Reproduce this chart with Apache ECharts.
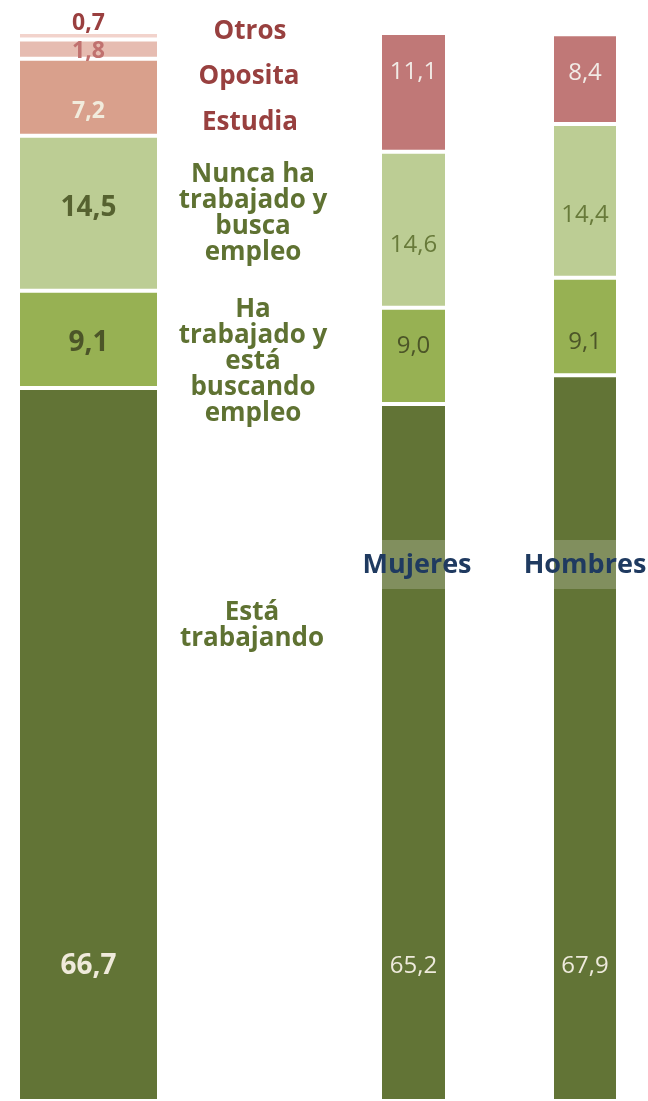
<!DOCTYPE html>
<html>
<head>
<meta charset="utf-8">
<script src="https://cdn.jsdelivr.net/npm/echarts@6/dist/echarts.min.js"></script>
<style>
  html, body { margin: 0; padding: 0; background: #fff; }
  #main { width: 648px; height: 1101px; }
</style>
</head>
<body>
<div id="main"></div>
<script>
  // segmentos (de abajo a arriba)
  const totalNames = ['Está\ntrabajando', 'Ha\ntrabajado y\nestá\nbuscando\nempleo', 'Nunca ha\ntrabajado y\nbusca\nempleo', 'Estudia', 'Oposita', 'Otros']
  const totalValues = [66.7, 9.1, 14.5, 7.2, 1.8, 0.7]
  const sexNames = ['Mujeres', 'Hombres']
  const mujeresValues = [65.2, 9.0, 14.6, 11.1]
  const hombresValues = [67.9, 9.1, 14.4, 8.4]

  const FONT = '"Open Sans"'
  const totalColors = ['#627436', '#97b153', '#bccd94', '#d9a08c', '#e6bcb1', '#f2d3cc']
  const sexColors = ['#627436', '#97b153', '#bccd94', '#c07877']
  const fmt = p => p.value.toFixed(1).replace('.', ',')

  // estilos de etiqueta del total
  const totalLabels = [
    { position: 'insideBottom', distance: 121, color: '#efeadb', fontSize: 28 },
    { position: 'inside', color: '#4c5528', fontSize: 28, offset: [0, 4] },
    { position: 'inside', color: '#566230', fontSize: 28, offset: [0, -5] },
    { position: 'inside', color: '#f1ebdc', fontSize: 23, offset: [0, 14] },
    { position: 'inside', color: '#c0716f', fontSize: 23, offset: [0, 2] },
    { position: 'top', distance: -3, color: '#9a3f3f', fontSize: 23 }
  ]
  const sexLabelColors = ['#eeeadc', '#4c5528', '#687a3a', '#f1ebe6']

  function sexLabels(offsets) {
    return [
      { position: 'insideBottom', distance: 123 },
      { position: 'inside', offset: [0, offsets[0]] },
      { position: 'inside', offset: [0, offsets[1]] },
      { position: 'insideTop', distance: 27 }
    ]
  }
  const sexLabelPos = [sexLabels([-10, 15]), sexLabels([16, 14])]

  const grids = [
    { left: 18, width: 141, top: 32, height: 1070 },
    { left: 380, width: 67, top: 32, height: 1070 },
    { left: 552, width: 66, top: 32, height: 1070 }
  ]
  const xAxis = grids.map((g, i) => ({
    type: 'category', gridIndex: i, data: [i === 0 ? 'Total' : sexNames[i - 1]], show: false
  }))
  const yAxis = grids.map((g, i) => ({
    type: 'value', gridIndex: i, min: 0, max: 100, show: false
  }))

  const series = []
  totalValues.forEach((v, k) => {
    series.push({
      name: totalNames[k].replace(/\n/g, ' '),
      type: 'bar', stack: 'total', xAxisIndex: 0, yAxisIndex: 0,
      barWidth: '100%', data: [v],
      itemStyle: { color: totalColors[k], borderColor: '#fff', borderWidth: 2 },
      label: Object.assign({
        show: true, formatter: fmt, fontFamily: FONT, fontWeight: 'bold'
      }, totalLabels[k])
    })
  })
  ;[mujeresValues, hombresValues].forEach((vals, s) => {
    vals.forEach((v, k) => {
      series.push({
        name: sexNames[s] + ' ' + k,
        type: 'bar', stack: sexNames[s], xAxisIndex: s + 1, yAxisIndex: s + 1,
        barWidth: '100%', data: [v],
        itemStyle: { color: sexColors[k], borderColor: '#fff', borderWidth: 2 },
        label: Object.assign({
          show: true, formatter: fmt, fontFamily: FONT, fontSize: 24, color: sexLabelColors[k]
        }, sexLabelPos[s][k])
      })
    })
  })

  // textos de las categorías
  const red = '#98403f'
  const green = '#5f7232'
  const notes = [
    { text: totalNames[5], x: 250, y: 32, color: red },
    { text: totalNames[4], x: 249, y: 77, color: red },
    { text: totalNames[3], x: 250, y: 123, color: red },
    { text: totalNames[2], x: 253, y: 214, color: green },
    { text: totalNames[1], x: 253, y: 362, color: green },
    { text: totalNames[0], x: 252, y: 626, color: green }
  ]
  const graphic = notes.map(n => ({
    type: 'text', x: n.x, y: n.y, z: 100,
    style: {
      text: n.text, fill: n.color, font: 'bold 26px ' + FONT, lineHeight: 26,
      textAlign: 'center', textVerticalAlign: 'middle'
    }
  }))
  ;[[381, 65, 417], [553, 64, 585]].forEach((b, s) => {
    graphic.push({
      type: 'rect', z: 99, shape: { x: b[0], y: 540, width: b[1], height: 49 },
      style: { fill: 'rgba(255,255,255,0.2)' }
    })
    graphic.push({
      type: 'text', x: b[2], y: 565, z: 100,
      style: {
        text: sexNames[s], fill: '#1f3a60', font: 'bold 27px ' + FONT,
        textAlign: 'center', textVerticalAlign: 'middle'
      }
    })
  })

  const chart = echarts.init(document.getElementById('main'))
  chart.setOption({
    animation: false,
    grid: grids,
    xAxis: xAxis,
    yAxis: yAxis,
    series: series,
    graphic: graphic
  })
</script>
</body>
</html>
